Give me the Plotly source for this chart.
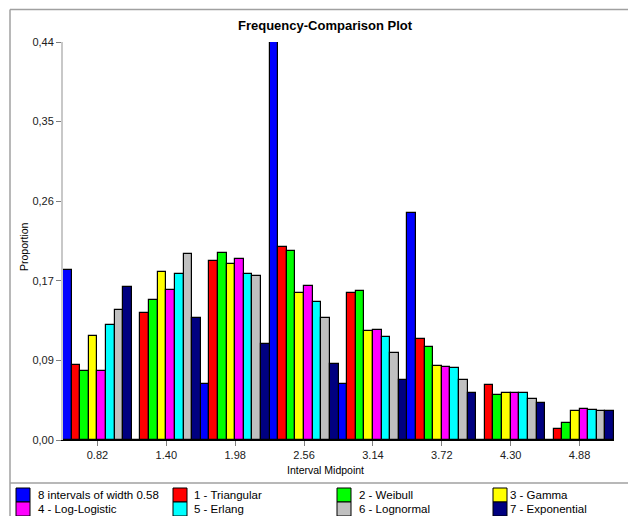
import plotly.graph_objects as go

# ---- data ----
midpoints = ["0.82", "1.40", "1.98", "2.56", "3.14", "3.72", "4.30", "4.88"]
series_names = ["8 intervals of width 0.58", "1 - Triangular", "2 - Weibull", "3 - Gamma",
                "4 - Log-Logistic", "5 - Erlang", "6 - Lognormal", "7 - Exponential"]
data_hist    = [0.187, 0.000, 0.062, 0.4375, 0.062, 0.250, 0.000, 0.000]
triangular   = [0.082, 0.140, 0.197, 0.212, 0.162, 0.111, 0.061, 0.012]
weibull      = [0.076, 0.154, 0.206, 0.208, 0.164, 0.102, 0.049, 0.019]
gamma_       = [0.114, 0.185, 0.193, 0.162, 0.120, 0.081, 0.052, 0.032]
loglogistic  = [0.076, 0.165, 0.199, 0.169, 0.121, 0.080, 0.052, 0.034]
erlang       = [0.126, 0.183, 0.183, 0.152, 0.113, 0.079, 0.052, 0.033]
lognormal    = [0.143, 0.205, 0.180, 0.134, 0.096, 0.066, 0.045, 0.032]
exponential  = [0.168, 0.134, 0.105, 0.083, 0.066, 0.052, 0.041, 0.032]
y_tick_vals = [0.0, 0.0875, 0.175, 0.2625, 0.35, 0.4375]
y_tick_text = ["0,00", "0,09", "0,17", "0,26", "0,35", "0,44"]

all_series = [data_hist, triangular, weibull, gamma_, loglogistic, erlang, lognormal, exponential]
colors = ["#0000FF", "#FF0000", "#00FF00", "#FFFF00", "#FF00FF", "#00FFFF", "#C0C0C0", "#000080"]

W, H = 628, 516
L, R, T, B = 63, 14, 42, 76
PW, PH = W - L - R, H - T - B

def px(x):
    return (x - L) / PW

def py(y):
    return (H - B - y) / PH

fig = go.Figure()
for name, vals, col in zip(series_names, all_series, colors):
    fig.add_trace(go.Bar(
        x=midpoints, y=vals, name=name,
        marker=dict(color=col, line=dict(color="#000000", width=1.2)),
        showlegend=False,
    ))

shapes = []
ann = []
font = "Liberation Sans, Arial, sans-serif"

# frame lines
frame_col = "#A0A0A0"
shapes.append(dict(type="line", xref="paper", yref="paper", x0=px(10), x1=px(628), y0=py(9.5), y1=py(9.5),
                   line=dict(color=frame_col, width=1.5)))
shapes.append(dict(type="line", xref="paper", yref="paper", x0=px(10), x1=px(10), y0=py(9.5), y1=py(516),
                   line=dict(color=frame_col, width=1.5)))
shapes.append(dict(type="line", xref="paper", yref="paper", x0=px(10), x1=px(628), y0=py(483), y1=py(483),
                   line=dict(color=frame_col, width=1.5)))

# manual legend
sw_x = [16, 173, 337, 493]
tx_x = [36, 192, 357, 508]
rows = [488, 502]
for i, (name, col) in enumerate(zip(series_names, colors)):
    r, c = divmod(i, 4)
    y0 = rows[r]
    shapes.append(dict(type="rect", xref="paper", yref="paper",
                       x0=px(sw_x[c]), x1=px(sw_x[c] + 14), y0=py(y0), y1=py(y0 + 14),
                       fillcolor=col, line=dict(color="#000000", width=1)))
    ann.append(dict(text=name, xref="paper", yref="paper", x=px(tx_x[c]), y=py(y0 + 7),
                    xanchor="left", yanchor="middle", showarrow=False,
                    font=dict(family=font, size=11.5, color="#000000")))

# titles
ann.append(dict(text="<b>Frequency-Comparison Plot</b>", xref="paper", yref="paper",
                x=px(325), y=py(25), xanchor="center", yanchor="middle", showarrow=False,
                font=dict(family=font, size=13, color="#000000")))
ann.append(dict(text="Interval Midpoint", xref="paper", yref="paper",
                x=px(325), y=py(470), xanchor="center", yanchor="middle", showarrow=False,
                font=dict(family=font, size=10.5, color="#000000")))
ann.append(dict(text="Proportion", xref="paper", yref="paper", textangle=-90,
                x=px(24), y=py(247), xanchor="center", yanchor="middle", showarrow=False,
                font=dict(family=font, size=10.5, color="#000000")))

fig.update_layout(
    width=W, height=H,
    margin=dict(l=L, r=R, t=T, b=B, pad=0),
    paper_bgcolor="white", plot_bgcolor="white",
    barmode="group", bargap=0, bargroupgap=0,
    shapes=shapes, annotations=ann,
    showlegend=False,
    font=dict(family=font, size=11, color="#000000"),
)
fig.update_xaxes(
    type="category", range=[-0.5, 7.5],
    showline=True, linecolor="#000000", linewidth=1,
    ticks="outside", ticklen=5, tickcolor="#808080",
    showgrid=False, zeroline=False,
    tickfont=dict(family=font, size=11, color="#202020"),
)
fig.update_yaxes(
    range=[0, 0.4375],
    tickvals=y_tick_vals, ticktext=y_tick_text,
    showline=True, linecolor="#C8C8C8", linewidth=2,
    ticks="outside", ticklen=5, tickcolor="#808080",
    showgrid=False, zeroline=False,
    tickfont=dict(family=font, size=11, color="#202020"),
)

fig.write_html(
    "out.html",
    config={"displayModeBar": False},
    post_script="document.body.style.margin='0';document.body.style.overflow='hidden';",
)
